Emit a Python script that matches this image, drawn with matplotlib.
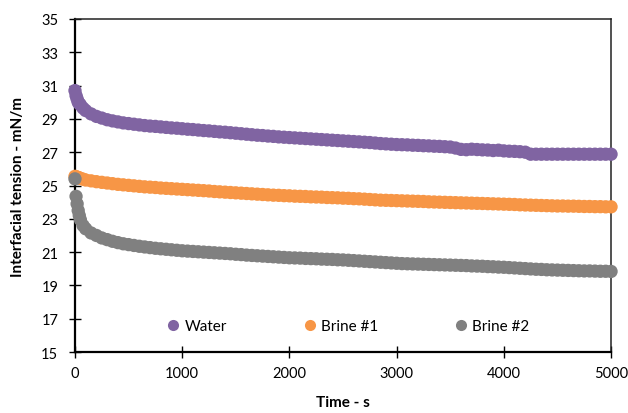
import matplotlib
matplotlib.use("Agg")
import matplotlib.pyplot as plt
from matplotlib.lines import Line2D

plt.rcParams['font.family'] = ['Lato', 'DejaVu Sans']

# Sampling times (s): dense at start, every 50 s afterwards
early_t = [0, 10, 20, 30, 40, 50, 75, 100, 150, 200, 250, 300, 350, 400, 450,
           500, 550, 600, 650, 700, 750, 800, 850, 900, 950]
late_t = list(range(1000, 5001, 50))
time_s = early_t + late_t

water = [30.70, 30.40, 30.20, 30.00, 29.92, 29.85, 29.65, 29.50, 29.30, 29.15,
         29.05, 28.95, 28.88, 28.82, 28.76, 28.72, 28.68, 28.64, 28.60, 28.57,
         28.55, 28.52, 28.49, 28.46, 28.44,
         28.41, 28.38, 28.36, 28.33, 28.30, 28.28, 28.25, 28.22, 28.20, 28.17,
         28.14, 28.11, 28.08, 28.05, 28.02, 28.00, 27.97, 27.95, 27.92, 27.90,
         27.88, 27.86, 27.84, 27.82, 27.80, 27.78, 27.76, 27.74, 27.72, 27.70,
         27.68, 27.66, 27.64, 27.62, 27.60, 27.58, 27.55, 27.52, 27.50, 27.48,
         27.46, 27.45, 27.44, 27.42, 27.41, 27.39, 27.38, 27.36, 27.35, 27.33,
         27.31, 27.25, 27.17, 27.15, 27.18, 27.16, 27.14, 27.13, 27.10, 27.12,
         27.08, 27.06, 27.05, 27.03, 27.00, 26.88, 26.88, 26.88, 26.88, 26.88,
         26.88, 26.88, 26.88, 26.88, 26.88, 26.88, 26.88, 26.88, 26.88, 26.88,
         26.88]

brine1 = [25.55, 25.52, 25.50, 25.48, 25.45, 25.43, 25.38, 25.33, 25.28, 25.23,
          25.19, 25.15, 25.11, 25.07, 25.04, 25.01, 24.98, 24.95, 24.92, 24.90,
          24.88, 24.85, 24.83, 24.81, 24.79,
          24.77, 24.75, 24.73, 24.71, 24.69, 24.67, 24.64, 24.62, 24.60, 24.58,
          24.56, 24.54, 24.52, 24.50, 24.48, 24.46, 24.44, 24.42, 24.41, 24.39,
          24.38, 24.36, 24.35, 24.34, 24.32, 24.31, 24.30, 24.28, 24.27, 24.26,
          24.24, 24.23, 24.21, 24.20, 24.18, 24.16, 24.14, 24.12, 24.11, 24.10,
          24.09, 24.08, 24.07, 24.06, 24.05, 24.04, 24.02, 24.01, 24.00, 23.99,
          23.98, 23.97, 23.96, 23.95, 23.94, 23.93, 23.92, 23.91, 23.90, 23.89,
          23.88, 23.87, 23.86, 23.84, 23.83, 23.82, 23.81, 23.80, 23.79, 23.78,
          23.77, 23.77, 23.76, 23.76, 23.75, 23.74, 23.74, 23.73, 23.73, 23.72,
          23.72]

brine2 = [25.40, 24.35, 23.90, 23.50, 23.20, 22.95, 22.60, 22.40, 22.15, 22.00,
          21.85, 21.75, 21.65, 21.57, 21.50, 21.45, 21.40, 21.35, 21.31, 21.27,
          21.23, 21.20, 21.17, 21.14, 21.11,
          21.08, 21.06, 21.04, 21.02, 21.00, 20.98, 20.96, 20.94, 20.92, 20.90,
          20.87, 20.85, 20.82, 20.80, 20.78, 20.76, 20.74, 20.72, 20.70, 20.68,
          20.66, 20.65, 20.64, 20.62, 20.61, 20.60, 20.58, 20.57, 20.56, 20.54,
          20.53, 20.51, 20.49, 20.47, 20.45, 20.43, 20.41, 20.39, 20.37, 20.35,
          20.33, 20.31, 20.30, 20.29, 20.28, 20.27, 20.26, 20.25, 20.24, 20.23,
          20.22, 20.21, 20.20, 20.19, 20.17, 20.16, 20.15, 20.13, 20.12, 20.10,
          20.09, 20.07, 20.05, 20.03, 20.01, 19.99, 19.97, 19.96, 19.94, 19.93,
          19.92, 19.91, 19.90, 19.89, 19.88, 19.87, 19.87, 19.86, 19.85, 19.85,
          19.84]

series_names = ["Water", "Brine #1", "Brine #2"]
series_colors = ["#8064A2", "#F79646", "#808080"]

x_ticks = [0, 1000, 2000, 3000, 4000, 5000]
y_ticks = [15, 17, 19, 21, 23, 25, 27, 29, 31, 33, 35]

fig = plt.figure(figsize=(6.28, 4.14), dpi=100)
ax = fig.add_axes([0.1194, 0.1473, 0.8536, 0.8044])

for vals, col in zip([water, brine1, brine2], series_colors):
    ax.scatter(time_s, vals, s=92, color=col, edgecolors='none',
               clip_on=False, zorder=3)

ax.set_xlim(0, 5000)
ax.set_ylim(15, 35)
ax.set_xticks(x_ticks)
ax.set_yticks(y_ticks)

for side in ("left", "bottom"):
    ax.spines[side].set_linewidth(1.6)
    ax.spines[side].set_color("black")
for side in ("top", "right"):
    ax.spines[side].set_linewidth(1.1)
    ax.spines[side].set_color("#222222")

ax.tick_params(axis='both', direction='inout', length=8, width=1.0,
               labelsize=10.5, colors='black')
ax.tick_params(axis='y', pad=8)
ax.tick_params(axis='x', pad=6)

ax.set_ylabel("Interfacial tension - mN/m", fontsize=11, fontweight='bold')
ax.set_xlabel("Time - s", fontsize=11, fontweight='bold')
ax.yaxis.set_label_coords(-0.093, 0.5)
ax.xaxis.set_label_coords(0.5, -0.128)

handles = [Line2D([], [], linestyle='none', marker='o', markersize=8,
                  markerfacecolor=c, markeredgecolor='none')
           for c in series_colors]
ax.legend(handles, series_names, loc='center left', bbox_to_anchor=(0.172, 0.078),
          ncol=3, frameon=False, fontsize=11, handlelength=0.8,
          handletextpad=0.35, columnspacing=5.0, borderpad=0, borderaxespad=0)

fig.savefig("out.png", dpi=100, facecolor='white')
